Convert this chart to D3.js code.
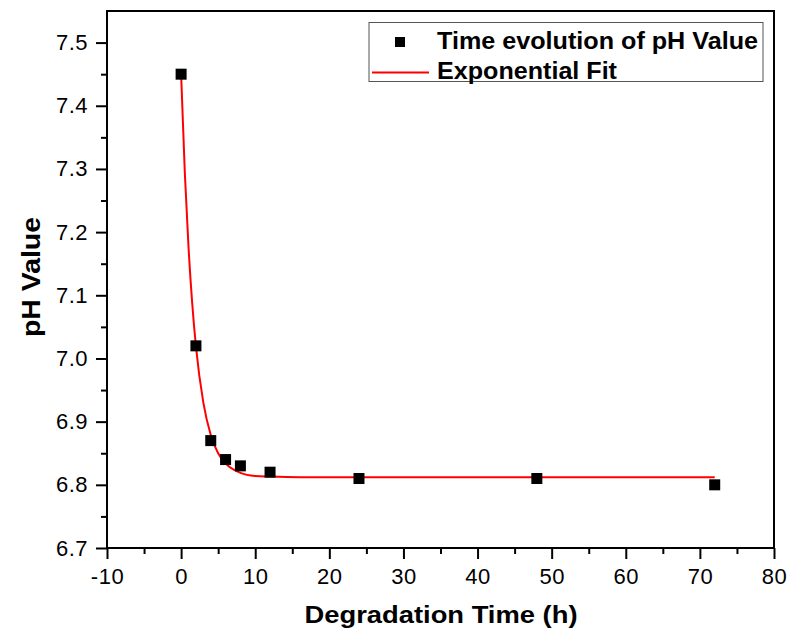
<!DOCTYPE html>
<html>
<head>
<meta charset="utf-8">
<script src="https://cdn.jsdelivr.net/npm/d3@7"></script>
<style>
  body { margin: 0; background: #fff; }
  text { font-family: Arial, "Liberation Sans", sans-serif; }
</style>
</head>
<body>
<svg id="svg1" width="790" height="634"></svg>
<script>
// measured pH values
var timeHours = [0, 2, 4, 6, 8, 12, 24, 48, 72];
var phValues = [7.45, 7.02, 6.87, 6.84, 6.83, 6.82, 6.81, 6.81, 6.80];

// points
var fitTime = [0, 0.5, 1, 1.5, 2, 3, 4, 5, 6, 8, 10, 12, 16, 24, 48, 72];
var fitPh = [7.450, 7.294, 7.176, 7.087, 7.019, 6.930, 6.879, 6.850, 6.834, 6.819, 6.814, 6.813, 6.812, 6.812, 6.812, 6.812];

var xTicks = [-10, 0, 10, 20, 30, 40, 50, 60, 70, 80];
var yTicks = [6.7, 6.8, 6.9, 7.0, 7.1, 7.2, 7.3, 7.4, 7.5];

var legendLabels = ['Time evolution of pH Value', 'Exponential Fit'];

var svg = d3.select('#svg1');

var pad = {l: 107, r: 774, t: 11, b: 548};

var xScale = d3.scaleLinear().domain([-10, 80]).range([pad.l, pad.r]);
var yScale = d3.scaleLinear().domain([6.7, 7.55]).range([pad.b, pad.t]);

// frame
svg.append('rect')
    .attr('x', pad.l).attr('y', pad.t)
    .attr('width', pad.r - pad.l).attr('height', pad.b - pad.t)
    .attr('fill', 'none').attr('stroke', '#000').attr('stroke-width', 2);

// minor ticks (halfway between majors)
var xMinor = xTicks.slice(0, -1).map(function(d) { return d + 5; });
var yMinor = yTicks.map(function(d) { return d + 0.05; }).filter(function(d) { return d < 7.55; });

svg.append('g')
    .attr('transform', 'translate(0,' + pad.b + ')')
    .call(d3.axisBottom(xScale).tickValues(xTicks).tickSize(11).tickPadding(9)
        .tickFormat(function(d) { return String(d); }));
svg.append('g')
    .attr('transform', 'translate(0,' + pad.b + ')')
    .call(d3.axisBottom(xScale).tickValues(xMinor).tickSize(6).tickFormat(''));

svg.append('g')
    .attr('transform', 'translate(' + pad.l + ',0)')
    .call(d3.axisLeft(yScale).tickValues(yTicks).tickSize(11).tickPadding(8).tickFormat(d3.format('.1f')));
svg.append('g')
    .attr('transform', 'translate(' + pad.l + ',0)')
    .call(d3.axisLeft(yScale).tickValues(yMinor).tickSize(6).tickFormat(''));

svg.selectAll('.domain').remove();
svg.selectAll('.tick line').attr('stroke', '#000').attr('stroke-width', 2);
svg.selectAll('.tick text')
    .attr('fill', '#000')
    .style('font-size', '22px')
    .style('letter-spacing', '0.5px')
    .style('font-family', 'Arial, "Liberation Sans", sans-serif');

// axis titles
svg.append('text')
    .attr('x', 441).attr('y', 623)
    .attr('text-anchor', 'middle')
    .attr('textLength', 273).attr('lengthAdjust', 'spacingAndGlyphs')
    .style('font-size', '24px').style('font-weight', 'bold')
    .text('Degradation Time (h)');

svg.append('text')
    .attr('transform', 'translate(' + [39.5, 277] + ') rotate(-90)')
    .attr('text-anchor', 'middle')
    .attr('textLength', 120).attr('lengthAdjust', 'spacingAndGlyphs')
    .style('font-size', '25px').style('font-weight', 'bold')
    .text('pH Value');

// fit line
var fitData = fitTime.map(function(t, i) { return [t, fitPh[i]]; });
svg.append('path')
    .datum(fitData)
    .attr('fill', 'none')
    .attr('stroke', '#ff0000')
    .attr('stroke-width', 2)
    .attr('d', d3.line()
        .x(function(d) { return xScale(d[0]); })
        .y(function(d) { return yScale(d[1]); })
        .curve(d3.curveMonotoneX));

// data squares
var sq = 11;
svg.selectAll('rect.pt')
    .data(timeHours)
    .enter()
    .append('rect')
      .attr('class', 'pt')
      .attr('x', function(d) { return xScale(d) - sq / 2; })
      .attr('y', function(d, i) { return yScale(phValues[i]) - sq / 2; })
      .attr('width', sq).attr('height', sq)
      .attr('fill', '#000');

// legend
var legend = svg.append('g').attr('class', 'legend');
legend.append('rect')
    .attr('x', 369).attr('y', 22.5)
    .attr('width', 394).attr('height', 59)
    .attr('fill', '#fff').attr('stroke', '#555').attr('stroke-width', 1);
legend.append('rect')
    .attr('x', 395).attr('y', 37)
    .attr('width', 10).attr('height', 10)
    .attr('fill', '#000');
legend.append('line')
    .attr('x1', 372).attr('x2', 429)
    .attr('y1', 72.5).attr('y2', 72.5)
    .attr('stroke', '#ff0000').attr('stroke-width', 2);
var legendWidths = [321, 180];
legend.selectAll('text.lg')
    .data(legendLabels)
    .enter()
    .append('text')
      .attr('class', 'lg')
      .attr('x', 437)
      .attr('y', function(d, i) { return 49 + i * 30; })
      .attr('textLength', function(d, i) { return legendWidths[i]; })
      .attr('lengthAdjust', 'spacingAndGlyphs')
      .style('font-size', '23.5px').style('font-weight', 'bold')
      .text(function(d) { return d; });
</script>
</body>
</html>
